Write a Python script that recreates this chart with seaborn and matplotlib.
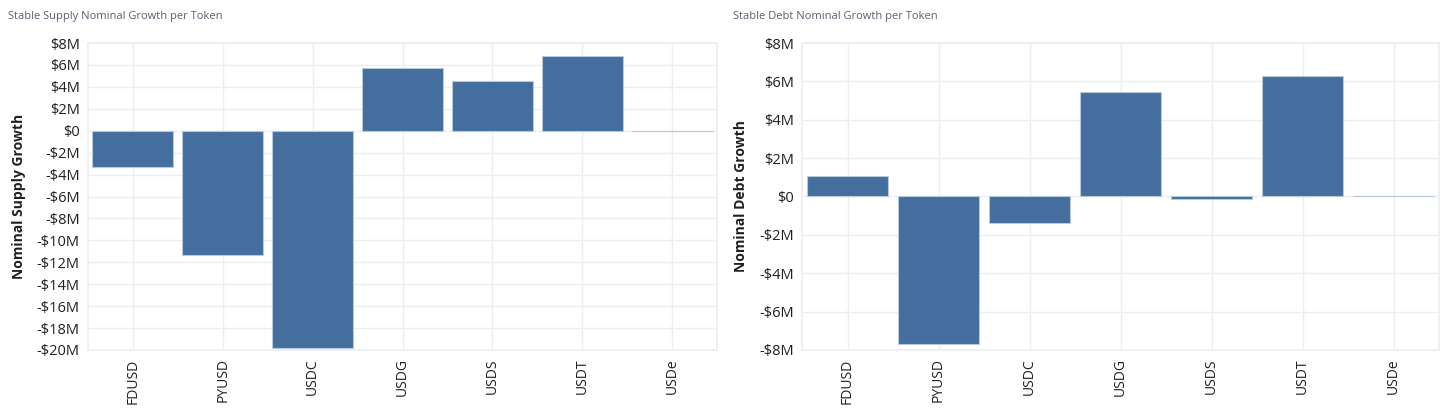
import matplotlib
matplotlib.use("Agg")
import matplotlib.pyplot as plt
import seaborn as sns
import pandas as pd
from matplotlib.ticker import FuncFormatter, MultipleLocator

tokens = ["FDUSD", "PYUSD", "USDC", "USDG", "USDS", "USDT", "USDe"]
supply_growth = [-3.35e6, -11.35e6, -19.85e6, 5.75e6, 4.5e6, 6.8e6, 0.0]
debt_growth = [1.08e6, -7.7e6, -1.4e6, 5.44e6, -0.15e6, 6.26e6, 0.0]

sns.set_theme(style="white")
plt.rcParams['font.family'] = ['Open Sans', 'DejaVu Sans']

BAR = "#436e9d"
GRID = "#eceef3"
TEXT = "#1f2024"

fig = plt.figure(figsize=(14.46, 4.12), dpi=100)
W, H = 1446, 412

def fmt(v, pos):
    m = v / 1e6
    if abs(m) < 1e-9:
        return "$0"
    s = "-" if m < 0 else ""
    return f"{s}${abs(m):.0f}M"

def panel(x0, x1, values, title, ylabel, ylim, step, title_x):
    ax = fig.add_axes([x0 / W, 1 - 350 / H, (x1 - x0) / W, (350 - 43) / H])
    df = pd.DataFrame({"token": tokens, "value": values})
    sns.barplot(data=df, x="token", y="value", ax=ax, color=BAR, saturation=1,
                width=0.9, edgecolor="#b9c9dc", linewidth=0.8, zorder=3)
    ax.set_ylim(*ylim)
    ax.yaxis.set_major_locator(MultipleLocator(step))
    ax.yaxis.set_major_formatter(FuncFormatter(fmt))
    ax.set_xlim(-0.5, len(tokens) - 0.5)
    ax.grid(True, color=GRID, linewidth=1, zorder=0)
    ax.set_axisbelow(True)
    for s in ax.spines.values():
        s.set_color(GRID)
        s.set_linewidth(1.2)
    ax.tick_params(axis="x", rotation=90, labelsize=10, colors=TEXT, length=0, pad=6)
    ax.tick_params(axis="y", labelsize=10.5, colors=TEXT, length=0, pad=6)
    ax.set_xlabel("")
    ax.set_ylabel(ylabel, fontsize=10, fontweight="bold", color=TEXT, labelpad=8)
    fig.text(title_x / W, 1 - 17 / H, title, fontsize=8, color="#5a6070",
             ha="left", va="center")
    return ax

panel(88, 717, supply_growth, "Stable Supply Nominal Growth per Token",
      "Nominal Supply Growth", (-20e6, 8e6), 2e6, 8)
panel(802, 1439, debt_growth, "Stable Debt Nominal Growth per Token",
      "Nominal Debt Growth", (-8e6, 8e6), 2e6, 733)

fig.savefig("out.png", dpi=100)
